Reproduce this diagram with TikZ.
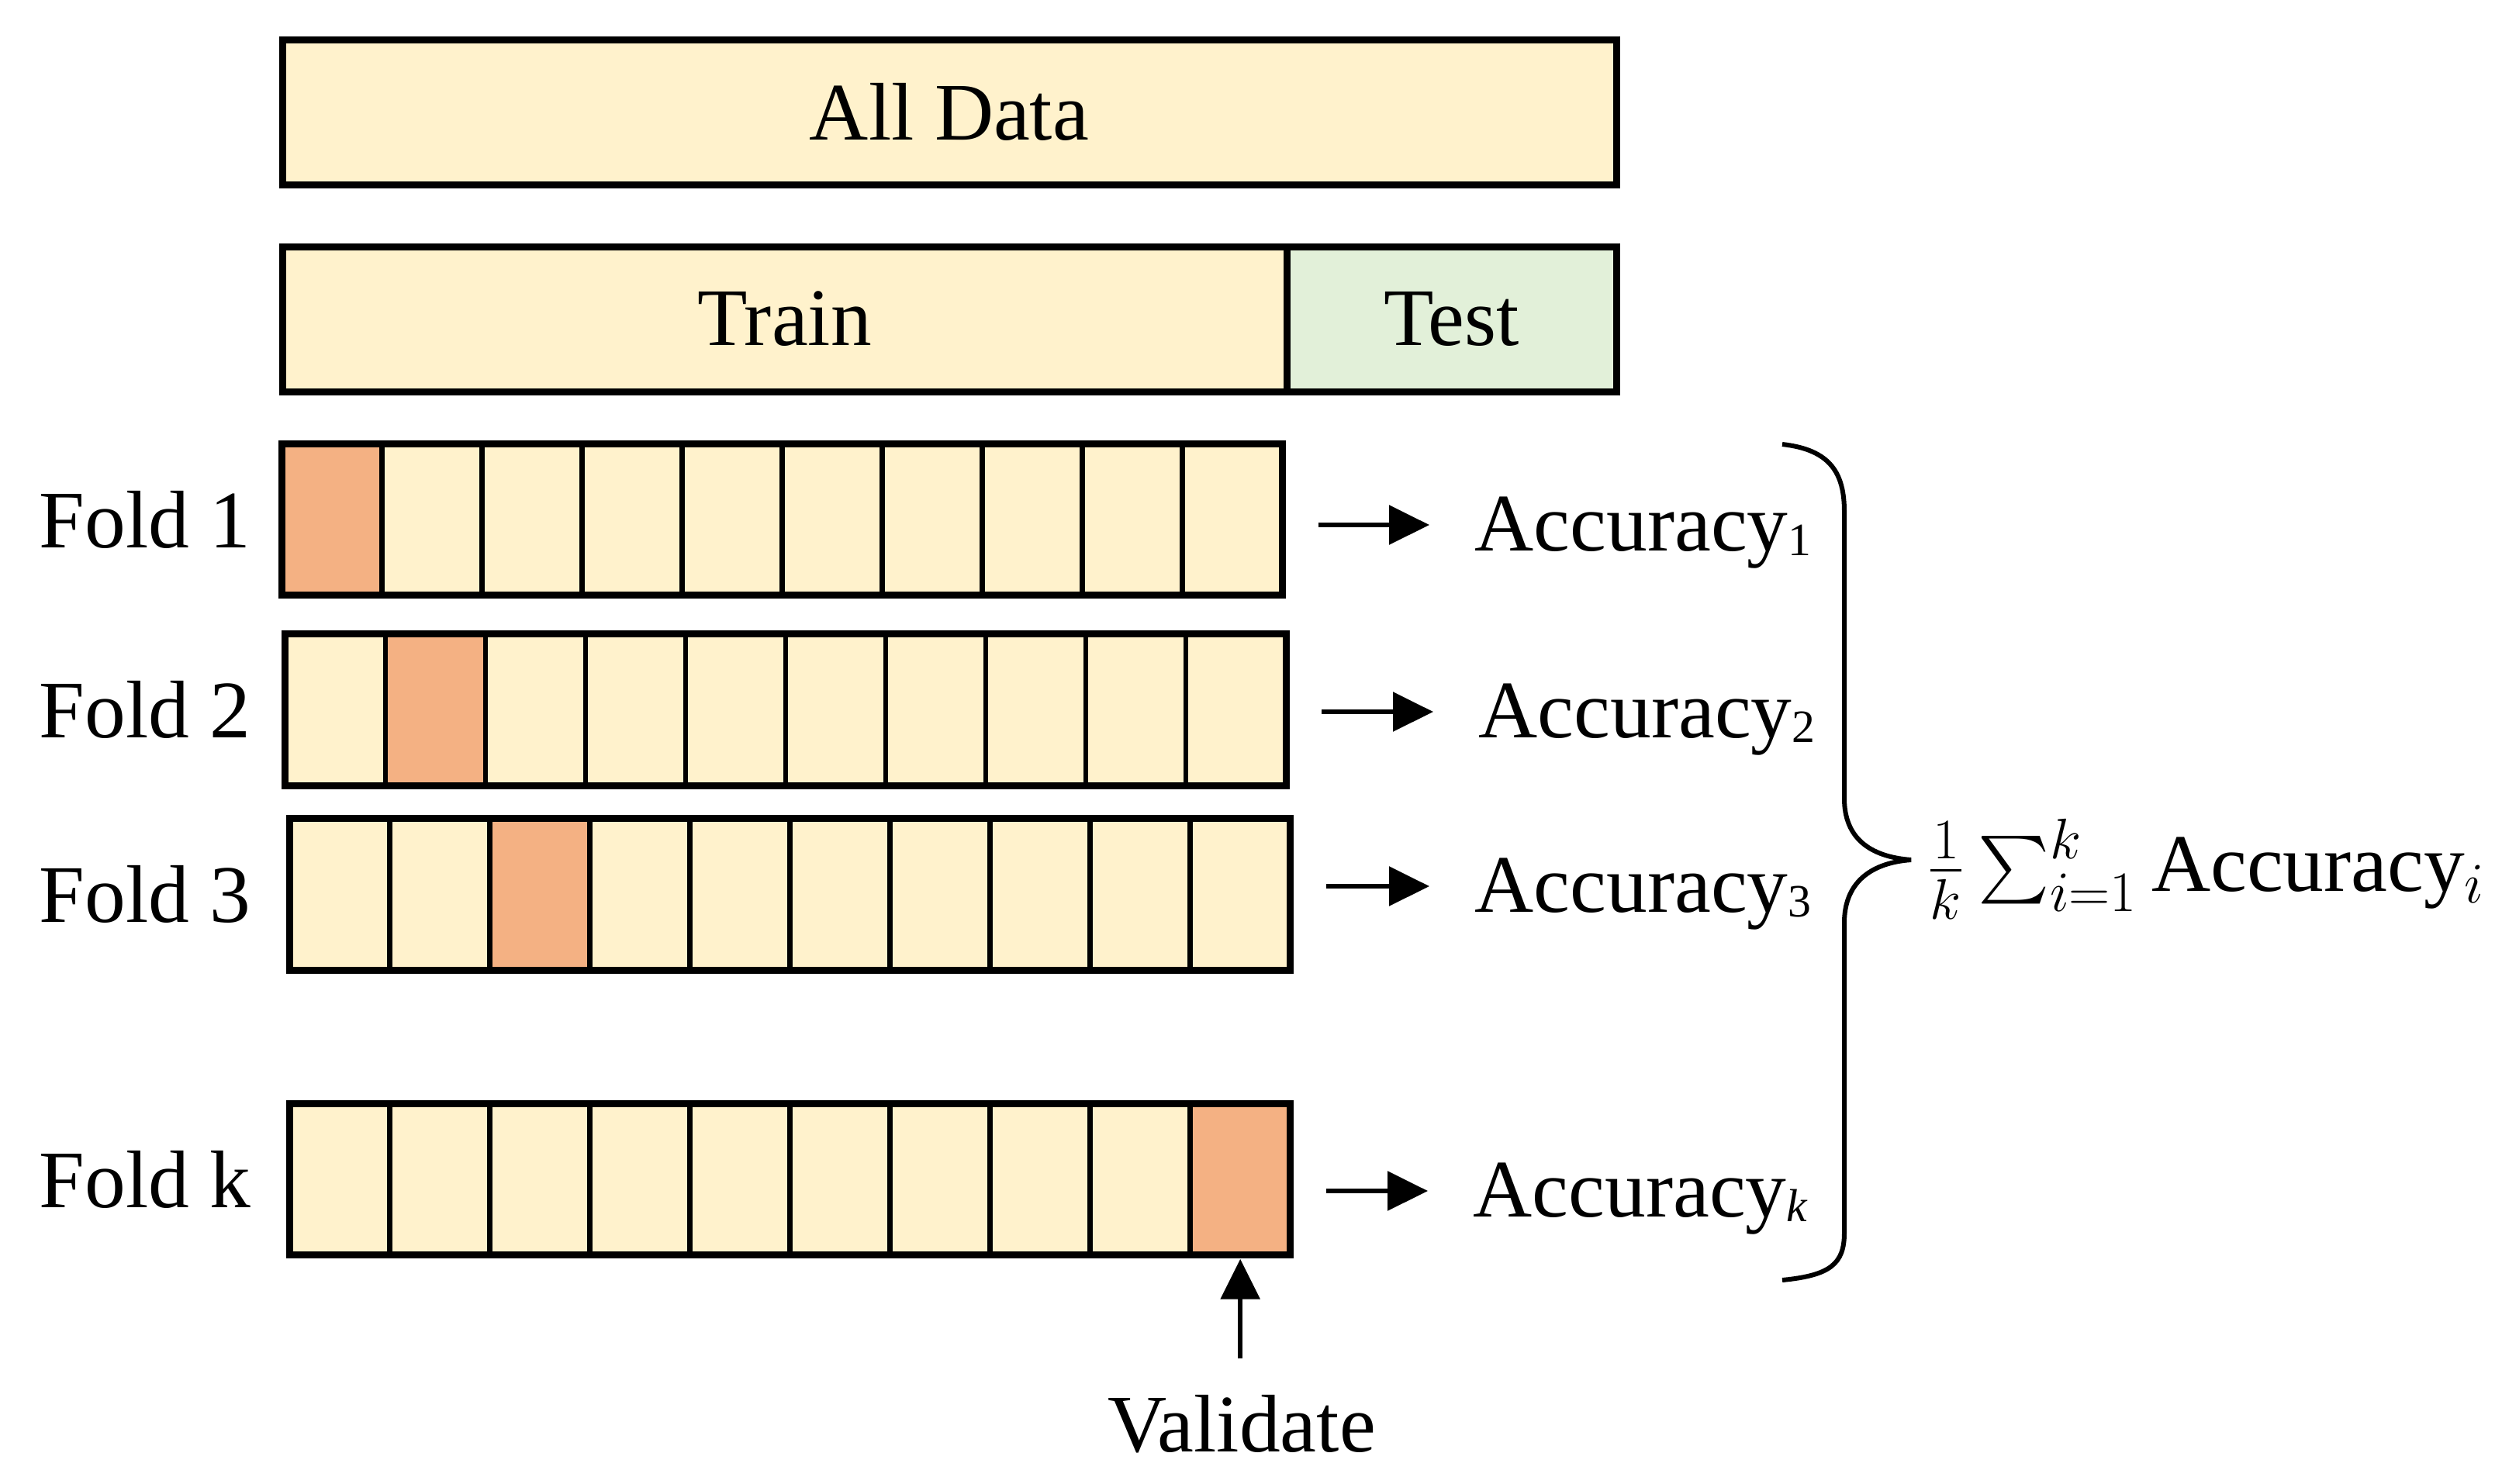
\documentclass[tikz,border=0pt]{standalone}
\usepackage{fix-cm}
\usepackage{amsmath}
\usepackage{fontspec}
\setmainfont{Liberation Serif}
\usepackage{xcolor}
\usetikzlibrary{arrows.meta,calc}
\definecolor{foldCream}{RGB}{255,242,204}
\definecolor{foldOrange}{RGB}{244,177,131}
\definecolor{foldGreen}{RGB}{226,240,217}
\newcommand{\accsub}[1]{\raisebox{-0.06cm}{\fontsize{17}{17}\selectfont #1}}

\begin{document}
\begin{tikzpicture}[
    txt/.style={inner sep=0pt, font=\fontsize{30}{36}\selectfont},
    databar/.style={txt, draw, line width=0.09cm, fill=foldCream, minimum height=1.87cm},
    foldbar/.style={fill=foldCream, minimum width=12.89cm, minimum height=1.94cm, inner sep=0pt},
    edge/.style={line width=0.09cm},
    cellline/.style={line width=0.065cm},
    arr/.style={line width=0.06cm, -{Triangle[length=0.52cm,width=0.5cm]}, shorten <=0.46cm, shorten >=0.58cm}
]
    \useasboundingbox (0,0) rectangle (32.26,-19.13);

    \node[databar, minimum width=17.20cm] (all) at (12.24,-1.445) {All Data};
    \node[databar, minimum width=12.95cm] (train) at (10.115,-4.115) {Train};
    \node[databar, minimum width=4.25cm, fill=foldGreen] (test) at (18.715,-4.115) {Test};

    \foreach \n/\x/\y/\v in {1/10.085/-6.700/1, 2/10.130/-9.155/2, 3/10.185/-11.535/3, k/10.185/-15.210/10} {
        \node[foldbar] (f\n) at (\x,\y) {};
        \fill[foldOrange] ($(f\n.north west)!\v/10-0.1!(f\n.north east)$) rectangle ($(f\n.south west)!\v/10!(f\n.south east)$);
        \foreach \c in {1,...,9}
            \draw[cellline] ($(f\n.north west)!\c/10!(f\n.north east)$) -- ($(f\n.south west)!\c/10!(f\n.south east)$);
        \draw[edge] (f\n.north west) rectangle (f\n.south east);
        \node[txt, anchor=east] (l\n) at (3.24,\y) {Fold \n};
    }

    \node[txt, anchor=base west] (acc1) at (19.01,-7.10) {Accuracy\accsub{1}};
    \node[txt, anchor=base west] (acc2) at (19.06,-9.51) {Accuracy\accsub{2}};
    \node[txt, anchor=base west] (acc3) at (19.01,-11.76) {Accuracy\accsub{3}};
    \node[txt, anchor=base west] (acck) at (18.99,-15.69) {Accuracy\accsub{\textit{k}}};
    \foreach \n in {1,2,3,k} {
        \coordinate (m\n) at ($(acc\n.base west)+(0,0.33)$);
        \draw[arr] (f\n.east |- m\n) -- (m\n);
    }

    \draw[line width=0.06cm] (22.98,-5.73) .. controls (23.60,-5.80) and (23.78,-6.10) .. (23.78,-6.60)
        -- (23.78,-10.30) .. controls (23.78,-10.80) and (24.10,-11.05) .. (24.64,-11.09)
        .. controls (24.10,-11.13) and (23.78,-11.40) .. (23.78,-11.90)
        -- (23.78,-15.90) .. controls (23.78,-16.30) and (23.60,-16.45) .. (22.98,-16.51);
    \node[txt, anchor=base west] (avg) at (24.84,-11.49) {$\frac{1}{k}\sum_{i=1}^{k}$\,Accuracy$_i$};

    \node[txt] (val) at (16.01,-18.37) {Validate};
    \coordinate (vk) at ($(fk.south west)!0.95!(fk.south east)$);
    \draw[arr, shorten <=0.47cm, shorten >=0.05cm] (vk |- val.north) -- (vk);
\end{tikzpicture}
\end{document}
